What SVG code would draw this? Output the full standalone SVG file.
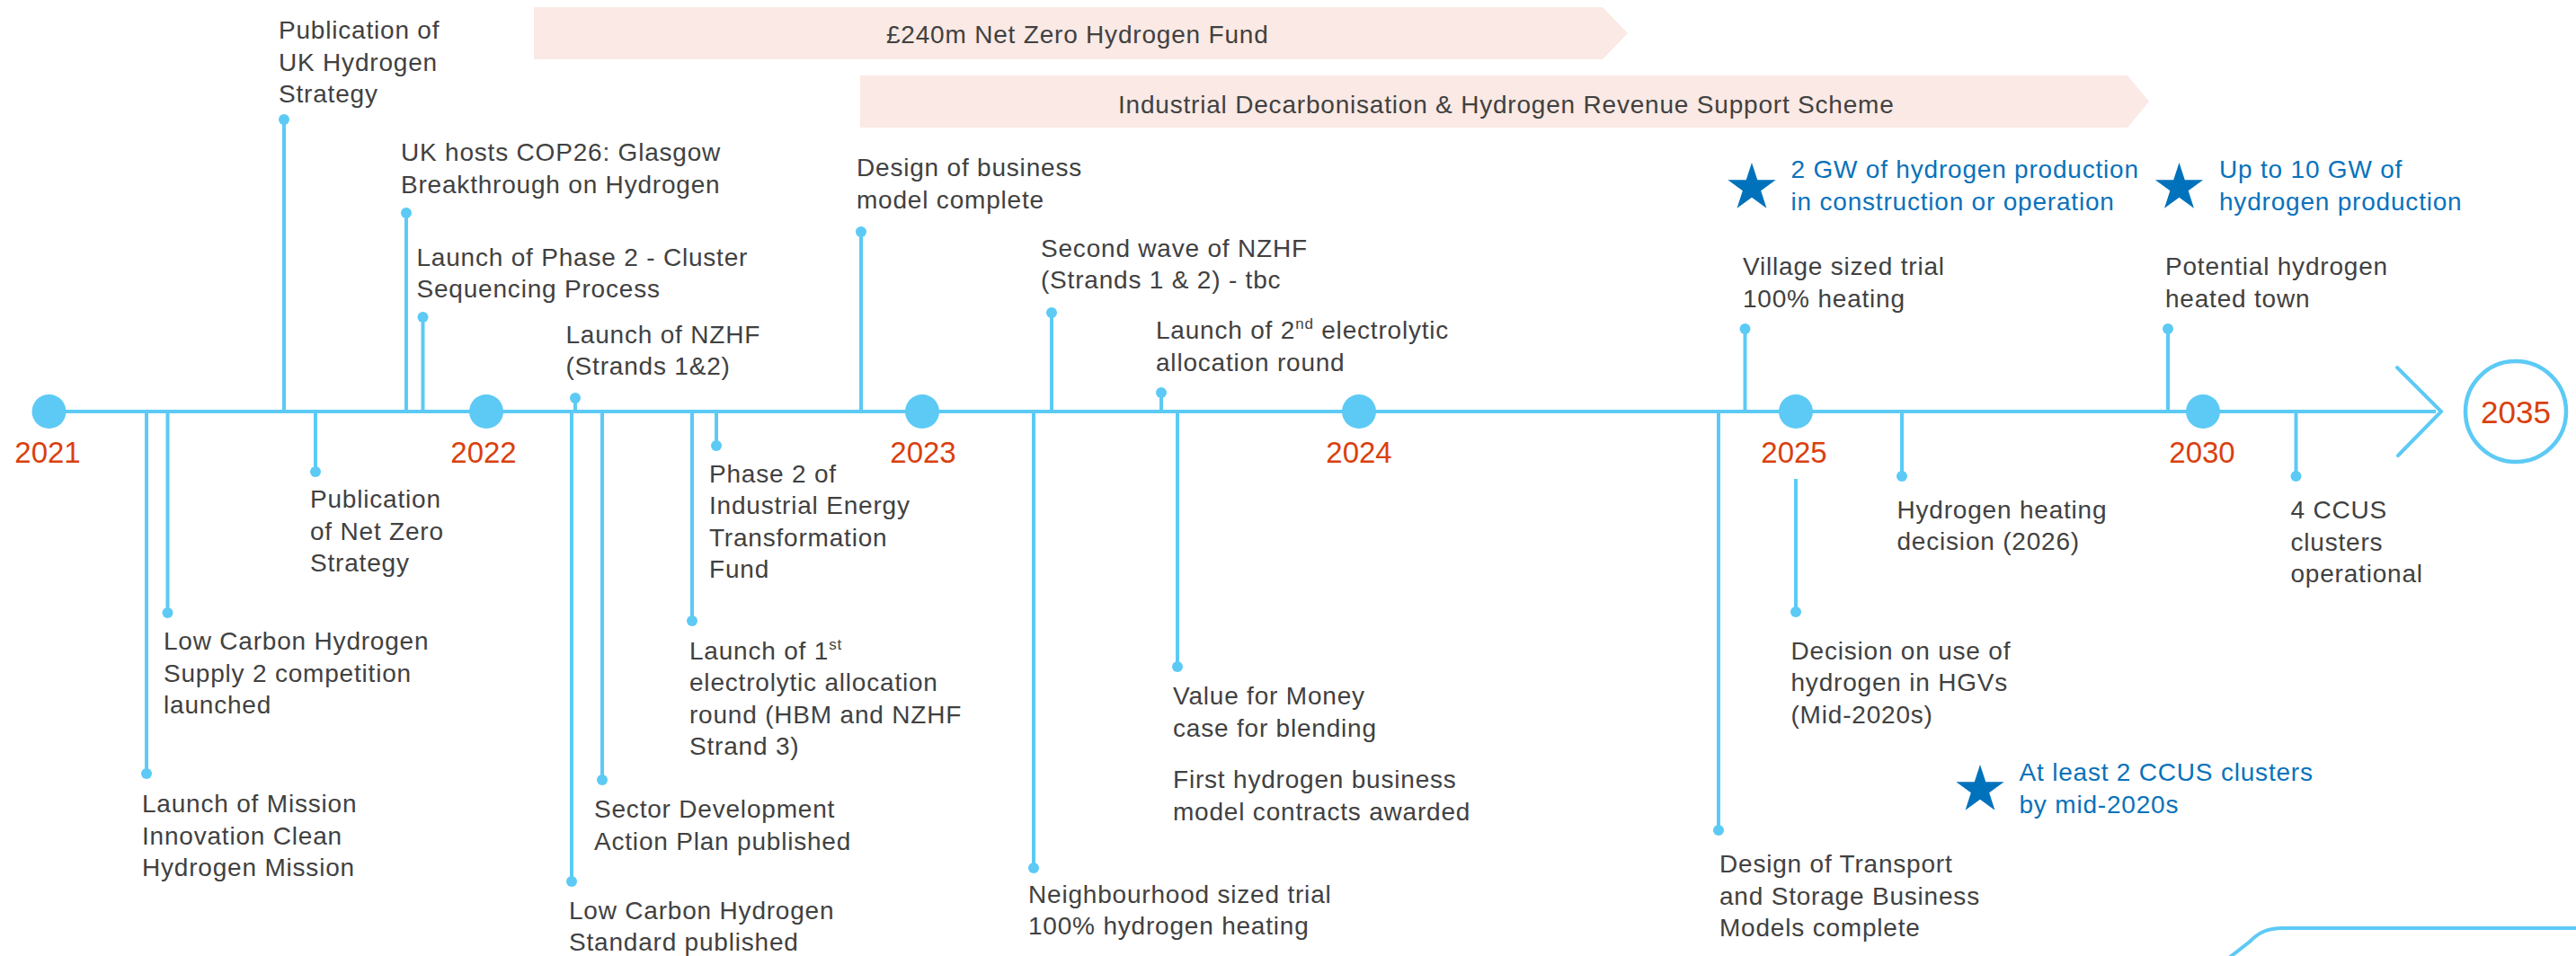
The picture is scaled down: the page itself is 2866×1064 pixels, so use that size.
<svg xmlns="http://www.w3.org/2000/svg" xmlns:xlink="http://www.w3.org/1999/xlink" width="2866" height="1064" viewBox="0 0 2866 1064">
<defs>
<style>
.t{font-family:"Liberation Sans",Arial,Helvetica,sans-serif;font-size:28px;letter-spacing:0.8px;fill:#414141}
.b{font-family:"Liberation Sans",Arial,Helvetica,sans-serif;font-size:28px;letter-spacing:0.8px;fill:#0a72ba}
.yr{font-family:"Liberation Sans",Arial,Helvetica,sans-serif;font-size:33px;fill:#d9400e;text-anchor:middle}
.bar{fill:#fae9e4}
.stem{stroke:#5ccaf5;stroke-width:4;fill:none}
.dot{fill:#5ccaf5}
.yc{fill:#5ccaf5}
.star{fill:#0072bb}
.sup{font-size:17px}
</style>
<path id="star" d="M0,-28 L6.29,-8.66 L26.63,-8.65 L10.18,3.31 L16.46,22.65 L0,10.7 L-16.46,22.65 L-10.18,3.31 L-26.63,-8.65 L-6.29,-8.66 Z"/>
</defs>
<rect width="2866" height="1064" fill="#ffffff"/>

<g id="bars">
<g id="bar-nzhf">
<polygon class="bar" points="594,8 1783,8 1811,37 1783,66 594,66"/>
<text class="t" x="986" y="48">£240m Net Zero Hydrogen Fund</text>
</g>
<g id="bar-idhrss">
<polygon class="bar" points="957,84 2367,84 2391,113 2367,142 957,142"/>
<text class="t" x="1244" y="126">Industrial Decarbonisation &amp; Hydrogen Revenue Support Scheme</text>
</g>
</g>

<g id="connectors">
<line class="stem" x1="54" y1="458" x2="2710" y2="458" stroke-width="4.5"/>
<polyline class="stem" points="2667,409 2716,458 2668,507" stroke-width="4.5" stroke-linecap="round" stroke-linejoin="miter"/>
<path class="stem" d="M2480,1066 L2503,1048 C2513,1038 2522,1033 2540,1033 L2866,1033"/>
<!-- above stems -->
<line class="stem" x1="316" y1="133" x2="316" y2="458"/>
<line class="stem" x1="452" y1="237" x2="452" y2="458"/>
<line class="stem" x1="470.5" y1="353" x2="470.5" y2="458"/>
<line class="stem" x1="640" y1="443" x2="640" y2="458"/>
<line class="stem" x1="958" y1="258" x2="958" y2="458"/>
<line class="stem" x1="1170" y1="348" x2="1170" y2="458"/>
<line class="stem" x1="1292" y1="437" x2="1292" y2="458"/>
<line class="stem" x1="1941.5" y1="366" x2="1941.5" y2="458"/>
<line class="stem" x1="2412" y1="366" x2="2412" y2="458"/>
<!-- below stems -->
<line class="stem" x1="163" y1="458" x2="163" y2="861"/>
<line class="stem" x1="186.5" y1="458" x2="186.5" y2="682"/>
<line class="stem" x1="351" y1="458" x2="351" y2="525"/>
<line class="stem" x1="636" y1="458" x2="636" y2="981"/>
<line class="stem" x1="670" y1="458" x2="670" y2="868"/>
<line class="stem" x1="770" y1="458" x2="770" y2="691"/>
<line class="stem" x1="797" y1="458" x2="797" y2="496"/>
<line class="stem" x1="1150" y1="458" x2="1150" y2="966"/>
<line class="stem" x1="1310" y1="458" x2="1310" y2="742"/>
<line class="stem" x1="1912" y1="458" x2="1912" y2="924"/>
<line class="stem" x1="1998" y1="533" x2="1998" y2="681"/>
<line class="stem" x1="2116" y1="458" x2="2116" y2="530"/>
<line class="stem" x1="2554.5" y1="458" x2="2554.5" y2="530"/>
</g>

<g id="years">
<g id="y2021"><circle class="yc" cx="54.5" cy="458" r="19"/><text class="yr" x="53" y="515">2021</text></g>
<g id="y2022"><circle class="yc" cx="541" cy="458" r="19"/><text class="yr" x="538" y="515">2022</text></g>
<g id="y2023"><circle class="yc" cx="1026" cy="458" r="19"/><text class="yr" x="1027" y="515">2023</text></g>
<g id="y2024"><circle class="yc" cx="1512" cy="458" r="19"/><text class="yr" x="1512" y="515">2024</text></g>
<g id="y2025"><circle class="yc" cx="1998" cy="458" r="19"/><text class="yr" x="1996" y="515">2025</text></g>
<g id="y2030"><circle class="yc" cx="2451" cy="458" r="19"/><text class="yr" x="2450" y="515">2030</text></g>
<g id="y2035"><circle cx="2799" cy="458" r="56" fill="none" stroke="#5ccaf5" stroke-width="4.5"/><text class="yr" x="2799" y="471" style="font-size:35px">2035</text></g>
</g>

<g id="n-pub-hydrogen-strategy"><circle class="dot" cx="316" cy="133" r="6"/><text class="t"><tspan x="310" y="43">Publication of</tspan><tspan x="310" y="78.5">UK Hydrogen</tspan><tspan x="310" y="114">Strategy</tspan></text></g>
<g id="n-cop26"><circle class="dot" cx="452" cy="237" r="6"/><text class="t"><tspan x="446" y="179">UK hosts COP26: Glasgow</tspan><tspan x="446" y="215">Breakthrough on Hydrogen</tspan></text></g>
<g id="n-phase2-cluster"><circle class="dot" cx="470.5" cy="353" r="6"/><text class="t"><tspan x="463.5" y="295.5">Launch of Phase 2 - Cluster</tspan><tspan x="463.5" y="331">Sequencing Process</tspan></text></g>
<g id="n-nzhf"><circle class="dot" cx="640" cy="443" r="6"/><text class="t"><tspan x="629.5" y="382">Launch of NZHF</tspan><tspan x="629.5" y="417">(Strands 1&amp;2)</tspan></text></g>
<g id="n-design-bm"><circle class="dot" cx="958" cy="258" r="6"/><text class="t"><tspan x="953" y="196">Design of business</tspan><tspan x="953" y="232">model complete</tspan></text></g>
<g id="n-second-wave"><circle class="dot" cx="1170" cy="348" r="6"/><text class="t"><tspan x="1158" y="286">Second wave of NZHF</tspan><tspan x="1158" y="321">(Strands 1 &amp; 2) - tbc</tspan></text></g>
<g id="n-launch-2nd"><circle class="dot" cx="1292" cy="437" r="6"/><text class="t"><tspan x="1286" y="377">Launch of 2</tspan><tspan class="sup" dy="-11">nd</tspan><tspan dy="11"> electrolytic</tspan><tspan x="1286" y="412.5">allocation round</tspan></text></g>
<g id="n-village"><circle class="dot" cx="1941.5" cy="366" r="6"/><text class="t"><tspan x="1939" y="306">Village sized trial</tspan><tspan x="1939" y="342">100% heating</tspan></text></g>
<g id="n-town"><circle class="dot" cx="2412" cy="366" r="6"/><text class="t"><tspan x="2409" y="306">Potential hydrogen</tspan><tspan x="2409" y="342">heated town</tspan></text></g>
<g id="n-star-2gw"><use xlink:href="#star" class="star" x="1949" y="209"/><text class="b"><tspan x="1992.5" y="198">2 GW of hydrogen production</tspan><tspan x="1992.5" y="234">in construction or operation</tspan></text></g>
<g id="n-star-10gw"><use xlink:href="#star" class="star" x="2424.5" y="209"/><text class="b"><tspan x="2469" y="198">Up to 10 GW of</tspan><tspan x="2469" y="234">hydrogen production</tspan></text></g>

<g id="n-mission"><circle class="dot" cx="163" cy="861" r="6"/><text class="t"><tspan x="158" y="904">Launch of Mission</tspan><tspan x="158" y="940">Innovation Clean</tspan><tspan x="158" y="975">Hydrogen Mission</tspan></text></g>
<g id="n-lch-supply2"><circle class="dot" cx="186.5" cy="682" r="6"/><text class="t"><tspan x="182" y="723">Low Carbon Hydrogen</tspan><tspan x="182" y="759">Supply 2 competition</tspan><tspan x="182" y="794">launched</tspan></text></g>
<g id="n-net-zero-strategy"><circle class="dot" cx="351" cy="525" r="6"/><text class="t"><tspan x="345" y="565">Publication</tspan><tspan x="345" y="600.5">of Net Zero</tspan><tspan x="345" y="636">Strategy</tspan></text></g>
<g id="n-lch-standard"><circle class="dot" cx="636" cy="981" r="6"/><text class="t"><tspan x="633" y="1023">Low Carbon Hydrogen</tspan><tspan x="633" y="1058">Standard published</tspan></text></g>
<g id="n-sector-dev"><circle class="dot" cx="670" cy="868" r="6"/><text class="t"><tspan x="661" y="910">Sector Development</tspan><tspan x="661" y="946">Action Plan published</tspan></text></g>
<g id="n-launch-1st"><circle class="dot" cx="770" cy="691" r="6"/><text class="t"><tspan x="767" y="734">Launch of 1</tspan><tspan class="sup" dy="-11">st</tspan><tspan x="767" y="769">electrolytic allocation</tspan><tspan x="767" y="805">round (HBM and NZHF</tspan><tspan x="767" y="840">Strand 3)</tspan></text></g>
<g id="n-ietf"><circle class="dot" cx="797" cy="496" r="6"/><text class="t"><tspan x="789" y="537">Phase 2 of</tspan><tspan x="789" y="572">Industrial Energy</tspan><tspan x="789" y="607.5">Transformation</tspan><tspan x="789" y="643">Fund</tspan></text></g>
<g id="n-neighbourhood"><circle class="dot" cx="1150" cy="966" r="6"/><text class="t"><tspan x="1144" y="1005">Neighbourhood sized trial</tspan><tspan x="1144" y="1040">100% hydrogen heating</tspan></text></g>
<g id="n-vfm"><circle class="dot" cx="1310" cy="742" r="6"/><text class="t"><tspan x="1305" y="784">Value for Money</tspan><tspan x="1305" y="820">case for blending</tspan><tspan x="1305" y="877">First hydrogen business</tspan><tspan x="1305" y="913">model contracts awarded</tspan></text></g>
<g id="n-transport-storage"><circle class="dot" cx="1912" cy="924" r="6"/><text class="t"><tspan x="1913" y="971">Design of Transport</tspan><tspan x="1913" y="1006.5">and Storage Business</tspan><tspan x="1913" y="1042">Models complete</tspan></text></g>
<g id="n-hgv"><circle class="dot" cx="1998" cy="681" r="6"/><text class="t"><tspan x="1992.5" y="734">Decision on use of</tspan><tspan x="1992.5" y="769">hydrogen in HGVs</tspan><tspan x="1992.5" y="804.5">(Mid-2020s)</tspan></text></g>
<g id="n-heating-decision"><circle class="dot" cx="2116" cy="530" r="6"/><text class="t"><tspan x="2110.5" y="577">Hydrogen heating</tspan><tspan x="2110.5" y="612">decision (2026)</tspan></text></g>
<g id="n-ccus4"><circle class="dot" cx="2554.5" cy="530" r="6"/><text class="t"><tspan x="2548.5" y="577">4 CCUS</tspan><tspan x="2548.5" y="613">clusters</tspan><tspan x="2548.5" y="648">operational</tspan></text></g>
<g id="n-star-ccus2"><use xlink:href="#star" class="star" x="2203" y="879"/><text class="b"><tspan x="2246.5" y="869">At least 2 CCUS clusters</tspan><tspan x="2246.5" y="904.5">by mid-2020s</tspan></text></g>
</svg>
